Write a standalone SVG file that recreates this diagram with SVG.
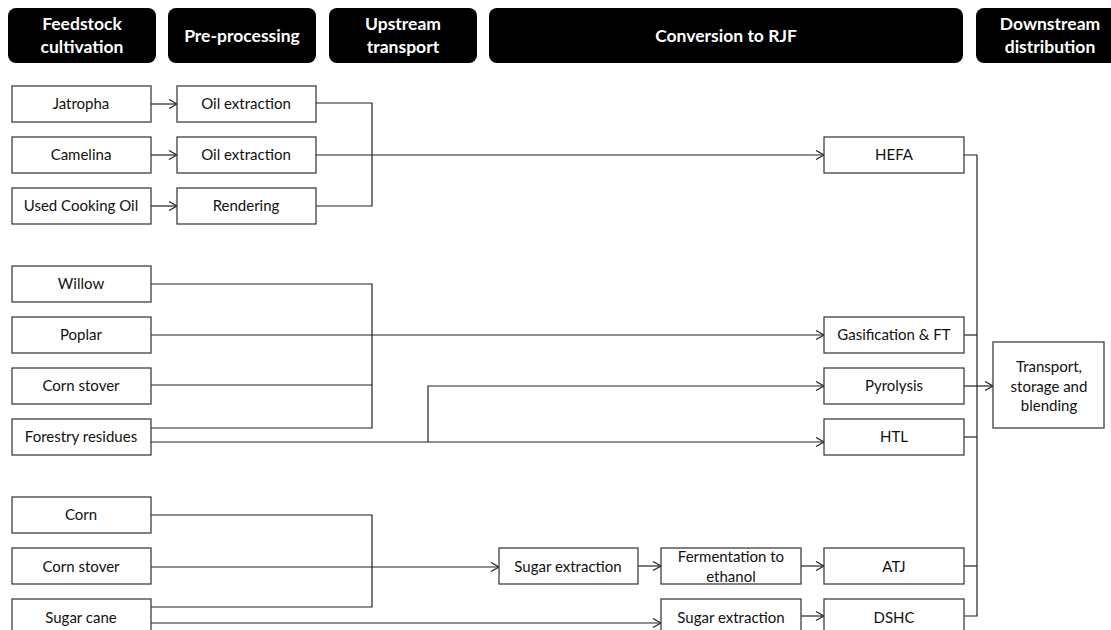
<svg xmlns="http://www.w3.org/2000/svg" width="1111" height="630" viewBox="0 0 1111 630">
<style>
.hdr{fill:#000}
.ht{fill:#fff;font-family:Lato,"Liberation Sans",sans-serif;font-weight:bold;font-size:17.5px;text-anchor:middle}
.box{fill:#fff;stroke:#404040;stroke-width:1.3}
.t{fill:#111;font-family:Lato,"Liberation Sans",sans-serif;font-size:15px;text-anchor:middle}
.c{fill:none;stroke:#222;stroke-width:1.2}
.a{marker-end:url(#arr)}
</style>
<defs>
<marker id="arr" markerUnits="userSpaceOnUse" markerWidth="12" markerHeight="12" refX="9" refY="5" orient="auto" viewBox="0 0 12 12">
<path d="M1,0.5 L9,5 L1,9.5" fill="none" stroke="#222" stroke-width="1.2"/>
</marker>
</defs>
<rect width="1111" height="630" fill="#fff"/>
<g id="headers">
<g id="h1"><rect class="hdr" x="8" y="8" width="148" height="55" rx="8"/><text class="ht" x="82" y="30">Feedstock</text><text class="ht" x="82" y="53">cultivation</text></g>
<g id="h2"><rect class="hdr" x="168" y="8" width="148" height="55" rx="8"/><text class="ht" x="242" y="42">Pre-processing</text></g>
<g id="h3"><rect class="hdr" x="329" y="8" width="148" height="55" rx="8"/><text class="ht" x="403" y="30">Upstream</text><text class="ht" x="403" y="53">transport</text></g>
<g id="h4"><rect class="hdr" x="489" y="8" width="474" height="55" rx="8"/><text class="ht" x="726" y="42">Conversion to RJF</text></g>
<g id="h5"><rect class="hdr" x="976" y="8" width="150" height="55" rx="8"/><text class="ht" x="1050" y="30">Downstream</text><text class="ht" x="1050" y="53">distribution</text></g>
</g>
<g id="connectors">
<line class="c a" x1="151" y1="104" x2="177" y2="104"/>
<line class="c a" x1="151" y1="155" x2="177" y2="155"/>
<line class="c a" x1="151" y1="206" x2="177" y2="206"/>
<polyline class="c" points="316,103 372,103 372,206 316,206"/>
<line class="c a" x1="316" y1="155" x2="824" y2="155"/>
<polyline class="c" points="151,284 372,284 372,428 151,428"/>
<line class="c" x1="151" y1="385" x2="372" y2="385"/>
<line class="c a" x1="151" y1="335" x2="824" y2="335"/>
<line class="c a" x1="151" y1="442" x2="824" y2="442"/>
<polyline class="c a" points="428,442 428,386 824,386"/>
<polyline class="c" points="151,515 372,515 372,607 151,607"/>
<line class="c a" x1="151" y1="567" x2="499" y2="567"/>
<line class="c a" x1="151" y1="623" x2="661" y2="623"/>
<line class="c a" x1="638" y1="566" x2="661" y2="566"/>
<line class="c a" x1="801" y1="566" x2="824" y2="566"/>
<line class="c a" x1="801" y1="616" x2="824" y2="616"/>
<polyline class="c" points="964,155 977,155 977,616 964,616"/>
<line class="c" x1="964" y1="335" x2="977" y2="335"/>
<line class="c" x1="964" y1="437" x2="977" y2="437"/>
<line class="c" x1="964" y1="566" x2="977" y2="566"/>
<line class="c a" x1="964" y1="386" x2="993" y2="386"/>
</g>
<g id="n-jatropha"><rect class="box" x="12" y="86" width="139" height="36"/><text class="t" x="81" y="109">Jatropha</text></g>
<g id="n-camelina"><rect class="box" x="12" y="137" width="139" height="36"/><text class="t" x="81" y="160">Camelina</text></g>
<g id="n-uco"><rect class="box" x="12" y="188" width="139" height="36"/><text class="t" x="81" y="211">Used Cooking Oil</text></g>
<g id="n-oil1"><rect class="box" x="177" y="86" width="139" height="36"/><text class="t" x="246" y="109">Oil extraction</text></g>
<g id="n-oil2"><rect class="box" x="177" y="137" width="139" height="36"/><text class="t" x="246" y="160">Oil extraction</text></g>
<g id="n-rendering"><rect class="box" x="177" y="188" width="139" height="36"/><text class="t" x="246" y="211">Rendering</text></g>
<g id="n-hefa"><rect class="box" x="824" y="137" width="140" height="36"/><text class="t" x="894" y="160">HEFA</text></g>
<g id="n-willow"><rect class="box" x="12" y="266" width="139" height="36"/><text class="t" x="81" y="289">Willow</text></g>
<g id="n-poplar"><rect class="box" x="12" y="317" width="139" height="36"/><text class="t" x="81" y="340">Poplar</text></g>
<g id="n-cornstover1"><rect class="box" x="12" y="368" width="139" height="36"/><text class="t" x="81" y="391">Corn stover</text></g>
<g id="n-forestry"><rect class="box" x="12" y="419" width="139" height="36"/><text class="t" x="81" y="442">Forestry residues</text></g>
<g id="n-gasification"><rect class="box" x="824" y="317" width="140" height="36"/><text class="t" x="894" y="340">Gasification &amp; FT</text></g>
<g id="n-pyrolysis"><rect class="box" x="824" y="368" width="140" height="36"/><text class="t" x="894" y="391">Pyrolysis</text></g>
<g id="n-htl"><rect class="box" x="824" y="419" width="140" height="36"/><text class="t" x="894" y="442">HTL</text></g>
<g id="n-transport"><rect class="box" x="993" y="342" width="111" height="86"/><text class="t" x="1049" y="372">Transport,</text><text class="t" x="1049" y="392">storage and</text><text class="t" x="1049" y="411">blending</text></g>
<g id="n-corn"><rect class="box" x="12" y="497" width="139" height="36"/><text class="t" x="81" y="520">Corn</text></g>
<g id="n-cornstover2"><rect class="box" x="12" y="548" width="139" height="36"/><text class="t" x="81" y="572">Corn stover</text></g>
<g id="n-sugarcane"><rect class="box" x="12" y="599" width="139" height="40"/><text class="t" x="81" y="623">Sugar cane</text></g>
<g id="n-sugar1"><rect class="box" x="499" y="548" width="139" height="36"/><text class="t" x="568" y="572">Sugar extraction</text></g>
<g id="n-ferment"><rect class="box" x="661" y="548" width="140" height="36"/><text class="t" x="731" y="562">Fermentation to</text><text class="t" x="731" y="582">ethanol</text></g>
<g id="n-atj"><rect class="box" x="824" y="548" width="140" height="36"/><text class="t" x="894" y="572">ATJ</text></g>
<g id="n-sugar2"><rect class="box" x="661" y="599" width="140" height="40"/><text class="t" x="731" y="623">Sugar extraction</text></g>
<g id="n-dshc"><rect class="box" x="824" y="599" width="140" height="40"/><text class="t" x="894" y="623">DSHC</text></g>
</svg>
